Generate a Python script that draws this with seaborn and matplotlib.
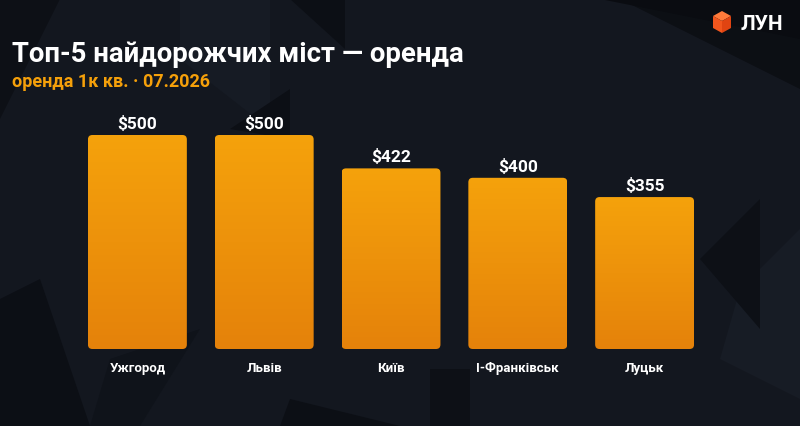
import numpy as np
import matplotlib
matplotlib.use("Agg")
import matplotlib.pyplot as plt
import seaborn as sns
from matplotlib.patches import FancyBboxPatch, Polygon

cities = ["Ужгород", "Львів", "Київ", "І-Франківськ", "Луцьк"]
rent = [500, 500, 422, 400, 355]
labels = ["$500", "$500", "$422", "$400", "$355"]

bg = "#13171f"
sns.set_theme(style="dark")
plt.rcParams["font.family"] = ["Roboto", "DejaVu Sans"]

fig = plt.figure(figsize=(8, 4.27), dpi=100, facecolor=bg)

# background geometric shapes (figure coords)
bgax = fig.add_axes([0, 0, 1, 1], zorder=0)
bgax.set_xlim(0, 800)
bgax.set_ylim(427, 0)
bgax.axis("off")
shapes = [
    ([(0, 0), (60, 0), (0, 120)], "#0d1016"),
    ([(180, 0), (270, 0), (270, 130), (180, 60)], "#161b24"),
    ([(290, 0), (345, 0), (345, 50)], "#0c0f15"),
    ([(230, 130), (290, 90), (290, 140)], "#0c0f15"),
    ([(345, 0), (800, 0), (800, 90), (620, 0)], "#0c0f14"),
    ([(410, 0), (800, 0), (800, 40), (600, 0)], "#0a0c11"),
    ([(0, 300), (40, 280), (90, 427), (0, 427)], "#0c0f15"),
    ([(110, 360), (200, 330), (140, 427), (90, 427)], "#0f131a"),
    ([(290, 400), (400, 427), (280, 427)], "#0c0f15"),
    ([(430, 370), (470, 370), (470, 427), (430, 427)], "#0d1016"),
    ([(740, 290), (800, 230), (800, 400), (720, 360)], "#171c25"),
    ([(700, 260), (760, 200), (760, 330)], "#0d1016"),
]
for pts, c in shapes:
    bgax.add_patch(Polygon(pts, closed=True, facecolor=c, edgecolor="none"))

# logo cube
cx, cy = 722, 23
top = [(cx, cy - 11), (cx + 9, cy - 6), (cx, cy - 1), (cx - 9, cy - 6)]
left = [(cx - 9, cy - 6), (cx, cy - 1), (cx, cy + 11), (cx - 9, cy + 6)]
right = [(cx, cy - 1), (cx + 9, cy - 6), (cx + 9, cy + 6), (cx, cy + 11)]
bgax.add_patch(Polygon(top, facecolor="#ff7a3a", edgecolor="none"))
bgax.add_patch(Polygon(left, facecolor="#f2561d", edgecolor="none"))
bgax.add_patch(Polygon(right, facecolor="#e04412", edgecolor="none"))
bgax.text(741, 24, "ЛУН", color="white", fontsize=15, fontweight="bold",
          va="center", ha="left")

fig.text(12 / 800, 1 - 55 / 427, "Топ-5 найдорожчих міст — оренда", color="white",
         fontsize=19.8, fontweight="bold", va="center", ha="left")
fig.text(12 / 800, 1 - 82 / 427, "оренда 1к кв. · 07.2026", color="#f5a00a",
         fontsize=13, fontweight="bold", va="center", ha="left")

ax = fig.add_axes([74 / 800, 77 / 427, 634 / 800, 250 / 427], zorder=1)
ax.patch.set_alpha(0)
sns.barplot(x=cities, y=rent, ax=ax, color="#f0960a", width=0.78)

grad = np.linspace(0, 1, 256).reshape(-1, 1)
cmap = matplotlib.colors.LinearSegmentedColormap.from_list("g", ["#e5820a", "#f5a20c"])
aspect = (1 / 0.428) / (1 / 127)
for p, lab in zip(ax.patches, labels):
    x0, w, h = p.get_x(), p.get_width(), p.get_height()
    p.set_visible(False)
    box = FancyBboxPatch((x0, 0), w, h, boxstyle="round,pad=0,rounding_size=0.035",
                         mutation_aspect=aspect, facecolor="none", edgecolor="none")
    ax.add_patch(box)
    im = ax.imshow(grad, extent=[x0, x0 + w, 0, h], origin="lower", cmap=cmap,
                   aspect="auto", zorder=2)
    im.set_clip_path(box)
    ax.text(x0 + w / 2, h + 12 / 0.428, lab, color="white", fontsize=12.5,
            fontweight="bold", ha="center", va="center")

ax.set_xlim(-0.5, len(cities) - 0.5)
ax.set_ylim(0, 250 / 0.428)
ax.set_yticks([])
ax.tick_params(axis="x", length=0, pad=9, colors="white", labelsize=9.5)
for t in ax.get_xticklabels():
    t.set_fontweight("bold")
ax.set_xlabel("")
ax.set_ylabel("")
for s in ax.spines.values():
    s.set_visible(False)
ax.grid(False)

fig.savefig("out.png", dpi=100, facecolor=bg)
